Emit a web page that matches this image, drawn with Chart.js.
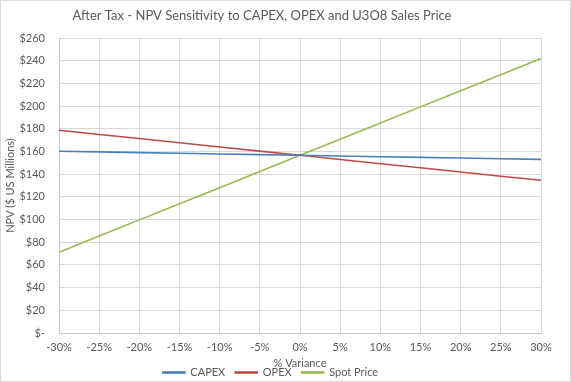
<!DOCTYPE html>
<html><head><meta charset="utf-8">
<script src="https://cdn.jsdelivr.net/npm/chart.js@4/dist/chart.umd.min.js"></script>
<style>
html,body{margin:0;padding:0;background:#fff;}
#wrap{position:relative;width:571px;height:382px;}
#frame{position:absolute;left:0;top:0;right:0;bottom:0;border:1px solid #d9d9d9;pointer-events:none;}
canvas{display:block;}
</style></head>
<body><div id="wrap"><canvas id="c" width="571" height="382"></canvas><div id="frame"></div></div>
<script>
const categories = ['-30%','-25%','-20%','-15%','-10%','-5%','0%','5%','10%','15%','20%','25%','30%'];
const capex = [160.2,159.6,159.0,158.4,157.8,157.2,156.6,156.0,155.4,154.8,154.2,153.6,153.0];
const opex  = [178.7,175.0,171.4,167.7,164.0,160.3,156.6,152.9,149.2,145.6,141.9,138.2,134.6];
const spot  = [71.2,85.4,99.7,113.9,128.1,142.4,156.6,170.8,185.0,199.3,213.5,227.7,242.0];
const yTicks = [0,20,40,60,80,100,120,140,160,180,200,220,240,260];
const titleText = 'After Tax - NPV Sensitivity to CAPEX, OPEX and U3O8 Sales Price';
const fontFam = "Lato, 'Open Sans', sans-serif";
const gray = '#595959';
const mk = (label, data, color) => ({label, data, borderColor: color, backgroundColor: color, borderWidth: 1.6, pointRadius: 0, tension: 0});
const titlePlugin = {
  id: 'fixedTitle',
  afterDraw(chart) {
    const ctx = chart.ctx;
    ctx.save();
    ctx.font = '13px ' + fontFam;
    ctx.fillStyle = gray;
    ctx.textAlign = 'center';
    ctx.textBaseline = 'middle';
    ctx.fillText(titleText, 262, 16);
    ctx.restore();
  }
};
new Chart(document.getElementById('c'), {
  type: 'line',
  data: { labels: categories, datasets: [mk('CAPEX', capex, '#4a7ebb'), mk('OPEX', opex, '#be4b48'), mk('Spot Price', spot, '#98b954')] },
  plugins: [titlePlugin],
  options: {
    responsive: false, animation: false,
    layout: { padding: { left: 0, right: 30, top: 38, bottom: -6 } },
    plugins: {
      title: { display: false },
      legend: { position: 'bottom', labels: { color: gray, font: { family: fontFam, size: 11, lineHeight: 1 }, boxWidth: 22, boxHeight: 1, padding: 10 } },
      tooltip: { enabled: false }
    },
    scales: {
      x: {
        offset: false,
        afterFit: (ax) => { ax.height = 24; },
        grid: { color: '#d9d9d9', drawTicks: false },
        border: { color: '#c8c8c8' },
        ticks: { color: gray, font: { family: fontFam, size: 11 }, padding: 8, maxRotation: 0, autoSkip: false },
        title: { display: true, text: '% Variance', color: gray, font: { family: fontFam, size: 11 }, padding: { top: 0, bottom: -12.6 } }
      },
      y: {
        min: 0, max: 260,
        afterFit: (ax) => { ax.width = 59; },
        afterBuildTicks: (ax) => { ax.ticks = yTicks.map(v => ({ value: v })); },
        grid: { color: '#d9d9d9', drawTicks: false },
        border: { color: '#c8c8c8' },
        ticks: { color: gray, font: { family: fontFam, size: 11 }, padding: 14, callback: v => v === 0 ? '$-' : '$' + v },
        title: { display: true, text: 'NPV ($ US Millions)', color: gray, font: { family: fontFam, size: 11 }, padding: { top: 3.5, bottom: 0 } }
      }
    }
  }
});
</script></body></html>
